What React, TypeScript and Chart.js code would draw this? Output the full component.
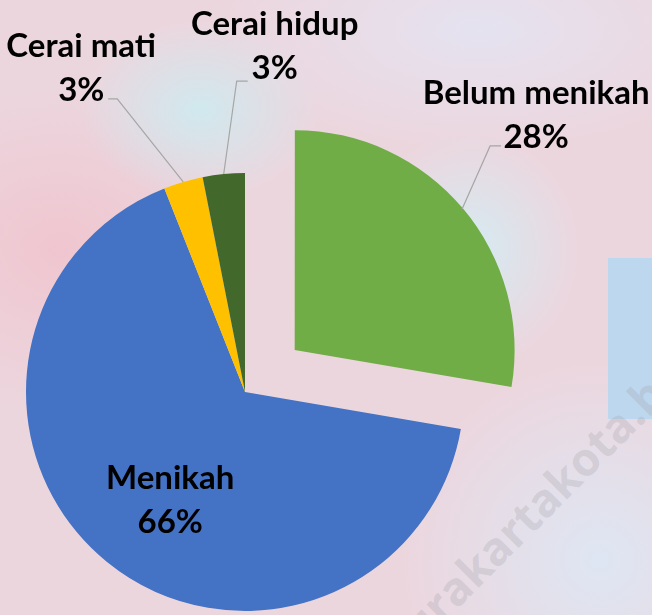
import React, { useEffect, useRef } from "react";
import { Chart, registerables } from "chart.js";

Chart.register(...registerables);

const categories = ["Belum menikah", "Menikah", "Cerai mati", "Cerai hidup"];
const shares = [27.7, 66.3, 2.9, 3.1];
const percentLabels = ["28%", "66%", "3%", "3%"];
const sliceColors = ["#70ad47", "#4472c4", "#ffc000", "#43682b"];
const sliceOffsets = [260, 0, 0, 0];

// label layout: anchor radius fraction, text offset from anchor, leader points (relative to anchor)
const labelLayout = [
  { f: 1, tx: 74, ty: -105, leader: [[28, -63], [39, -63]] },
  { f: 0.6, tx: 8, ty: -5, leader: null },
  { f: 1, tx: -102, ty: -125, leader: [[-66, -83], [-75, -83]] },
  { f: 1, tx: 51, ty: -139, leader: [[13, -93], [24, -93]] },
];

const FONT = "bold 33px Lato, 'Open Sans', sans-serif";
const LINE_GAP = 44;

const labelPlugin = {
  id: "sliceLabels",
  afterDatasetsDraw(chart: any) {
    const ctx = chart.ctx;
    const meta = chart.getDatasetMeta(0);
    meta.data.forEach((arc: any, i: number) => {
      const { x, y, startAngle, endAngle, outerRadius } = arc.getProps(
        ["x", "y", "startAngle", "endAngle", "outerRadius"],
        true
      );
      const mid = (startAngle + endAngle) / 2;
      const shift = (sliceOffsets[i] || 0) / 4;
      const cx = x + Math.cos(mid) * shift;
      const cy = y + Math.sin(mid) * shift;
      const lay = labelLayout[i];
      const ax = cx + Math.cos(mid) * outerRadius * lay.f;
      const ay = cy + Math.sin(mid) * outerRadius * lay.f;
      ctx.save();
      if (lay.leader) {
        ctx.strokeStyle = "#a6a6a6";
        ctx.lineWidth = 1.2;
        ctx.beginPath();
        ctx.moveTo(ax, ay);
        lay.leader.forEach((p: number[]) => ctx.lineTo(ax + p[0], ay + p[1]));
        ctx.stroke();
      }
      ctx.fillStyle = "#000000";
      ctx.font = FONT;
      ctx.textAlign = "center";
      ctx.textBaseline = "alphabetic";
      ctx.fillText(categories[i], ax + lay.tx, ay + lay.ty);
      ctx.fillText(percentLabels[i], ax + lay.tx, ay + lay.ty + LINE_GAP);
      ctx.restore();
    });
  },
};

export default function App() {
  const ref = useRef<HTMLCanvasElement | null>(null);
  useEffect(() => {
    if (!ref.current) return;
    const chart = new Chart(ref.current, {
      type: "pie",
      data: {
        labels: categories,
        datasets: [
          {
            data: shares,
            backgroundColor: sliceColors,
            borderWidth: 0,
            offset: sliceOffsets,
            radius: 219,
            clip: false as any,
          } as any,
        ],
      },
      options: {
        animation: false,
        responsive: false,
        devicePixelRatio: 1,
        layout: { padding: { left: 0, right: 162, top: 169, bottom: 0 } },
        plugins: {
          legend: { display: false },
          tooltip: { enabled: false },
        },
        events: [],
      },
      plugins: [labelPlugin],
    });
    return () => chart.destroy();
  }, []);

  return (
    <div
      style={{
        position: "absolute",
        left: 0,
        top: 0,
        width: 652,
        height: 615,
        overflow: "hidden",
        background:
          "radial-gradient(ellipse 120px 90px at 200px 110px, rgba(205,235,240,0.9), rgba(205,235,240,0) 100%)," +
          "radial-gradient(ellipse 110px 120px at 470px 250px, rgba(210,238,245,0.85), rgba(210,238,245,0) 100%)," +
          "radial-gradient(ellipse 260px 120px at 480px 30px, rgba(228,228,242,0.9), rgba(228,228,242,0) 100%)," +
          "radial-gradient(ellipse 200px 160px at 60px 250px, rgba(240,196,206,0.9), rgba(240,196,206,0) 100%)," +
          "radial-gradient(ellipse 200px 200px at 600px 560px, rgba(220,232,245,0.9), rgba(220,232,245,0) 100%)," +
          "#ecd6de",
      }}
    >
      <div
        style={{
          position: "absolute",
          left: 608,
          top: 258,
          width: 44,
          height: 161,
          background: "#bdd7ee",
        }}
      />
      <div
        style={{
          position: "absolute",
          left: 330,
          top: 470,
          width: 420,
          textAlign: "center",
          transform: "rotate(-45deg)",
          font: "bold 46px 'Open Sans', sans-serif",
          color: "rgba(165,165,172,0.3)",
          whiteSpace: "nowrap",
        }}
      >
        surakartakota.bps.go.id
      </div>
      <canvas
        ref={ref}
        width={652}
        height={615}
        style={{ position: "absolute", left: 0, top: 0 }}
      />
    </div>
  );
}
